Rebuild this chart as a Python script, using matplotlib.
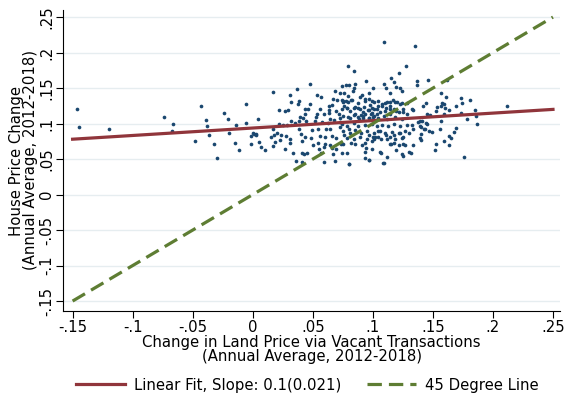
import matplotlib
matplotlib.use("Agg")
import matplotlib.pyplot as plt
import numpy as np

# scatter values (land price change, house price change)
land_change = [
    -0.146, -0.1445, -0.1195, -0.0737, -0.0664, -0.067, -0.0428, -0.0389, -0.0383, -0.0367,
    -0.0478, -0.032, -0.030, -0.0237, -0.0208, -0.0195, -0.0142, -0.0147, -0.0114, -0.0053,
    -0.0053, -0.0014, 0.0, 0.0025, -0.0014, 0.0042, 0.0053,
    0.0797, 0.0847, 0.0942, 0.0478, 0.0744, 0.0775, 0.080, 0.085, 0.0372, 0.0172,
    0.0686, 0.0725, 0.0761, 0.0833, 0.0314, 0.0533, 0.0572, 0.0894, 0.0967, 0.0672,
    0.0705, 0.0739, 0.0778, 0.0819, 0.0933, 0.0969, 0.0317, 0.0389, 0.038, 0.048,
    0.0639, 0.0761, 0.0783, 0.0847, 0.088, 0.093, 0.0992, 0.1039, 0.0219, 0.0294,
    0.0439, 0.0458, 0.0558, 0.0639, 0.0697, 0.0958, 0.1011, 0.0433, 0.0539, 0.0639,
    0.0719, 0.0855, 0.090, 0.0936, 0.0983, 0.1033, 0.0392, 0.0419, 0.0528, 0.0644,
    0.0675, 0.073, 0.0811, 0.0886, 0.0919, 0.0964, 0.1005, 0.0317, 0.0353, 0.0389,
    0.0447, 0.0519, 0.0578, 0.0625, 0.0725, 0.0222, 0.025, 0.0289, 0.0389, 0.0492,
    0.0544, 0.0606, 0.0644, 0.0725, 0.080, 0.0008, 0.0028, 0.0153, 0.018, 0.0236,
    0.0278, 0.0311, 0.0403, 0.0436, 0.0483, 0.0561, 0.0603, 0.0658, 0.0692, 0.0758,
    0.0967, 0.1003, 0.0169, 0.0072, 0.0103, 0.0267, 0.0311, 0.0408, 0.050, 0.0555,
    0.0594, 0.0647, 0.0692, 0.0733, 0.0814, 0.0911, 0.0944, 0.0339, 0.045, 0.0567,
    0.0667, 0.0739, 0.0361, 0.0414, 0.0594, 0.0803, 0.0689, 0.0964, 0.0989,
    0.1094, 0.1355, 0.1278, 0.1217, 0.1155, 0.118, 0.1367, 0.1369, 0.1461, 0.1094,
    0.1111, 0.1194, 0.123, 0.1244, 0.1003, 0.1617, 0.1564, 0.1139, 0.0992, 0.1611,
    0.1736, 0.1811, 0.1578, 0.1442, 0.1414, 0.1322, 0.1536, 0.1569, 0.1633, 0.1694,
    0.1847, 0.2119, 0.1742, 0.1167, 0.1144, 0.120, 0.1242, 0.1105, 0.1075, 0.1108,
    0.1142, 0.1192, 0.1253, 0.1455, 0.1528, 0.178, 0.1861, 0.1864, 0.1692, 0.1561,
    0.1494, 0.1464, 0.1428, 0.1389, 0.140, 0.1333, 0.1297, 0.1255, 0.1222, 0.1172,
    0.1144, 0.1111, 0.1047, 0.1019, 0.0992, 0.1067, 0.1214, 0.1267, 0.1333, 0.1155,
    0.1192, 0.130, 0.1317, 0.1522, 0.1517, 0.1594, 0.1633, 0.165, 0.1564, 0.1394,
    0.133, 0.1253, 0.1114, 0.1067, 0.1083, 0.1758, 0.1405,
    0.0755, 0.0797, 0.0828, 0.088, 0.0936, 0.0978, 0.1006, 0.1047, 0.1075, 0.1117,
    0.1144, 0.1186, 0.1228, 0.1283, 0.0742, 0.0783, 0.0811, 0.0853, 0.0894, 0.0922,
    0.0964, 0.0992, 0.1033, 0.1061, 0.1103, 0.1144, 0.1172, 0.1214, 0.1255, 0.1283,
    0.0755, 0.0797, 0.0839, 0.088, 0.0922, 0.0964, 0.1006, 0.1047, 0.1089, 0.1117,
    0.1186, 0.1242, 0.0742, 0.0783, 0.0839, 0.088, 0.0936, 0.0992, 0.1033, 0.1075,
    0.113, 0.1172, 0.1228, 0.1283, 0.0755, 0.0811, 0.0853, 0.090, 0.095, 0.1006,
    0.1061, 0.1103, 0.1158, 0.1214, 0.1269, 0.0783, 0.0839, 0.0894, 0.095, 0.1006,
    0.1047, 0.1117, 0.1186, 0.1242, 0.0755, 0.0853, 0.0936, 0.1144, 0.1172, 0.1255,
    0.0783, 0.0936, 0.1061, 0.1242, 0.0936, 0.0972, 0.1089, 0.0805,
    0.0658, 0.0272, 0.0597, 0.0167, 0.020, 0.0186, 0.0228, 0.0411, 0.043, 0.0547,
    0.0603, 0.0658, 0.1589, 0.1597, 0.1333, 0.1472, 0.1589, 0.1736, 0.138, 0.1394,
    0.1408, 0.1444, 0.1455, 0.1436, 0.1672, 0.1403, 0.1633, 0.0844, 0.0797, 0.0908,
    0.075,
]
house_change = [
    0.120, 0.095, 0.0925, 0.1095, 0.099, 0.0897, 0.1246, 0.1048, 0.0959, 0.0846,
    0.0755, 0.0713, 0.052, 0.1152, 0.1058, 0.0874, 0.0982, 0.0727, 0.0628, 0.1275,
    0.1006, 0.0826, 0.0864, 0.085, 0.0713, 0.1058, 0.0746,
    0.1809, 0.1738, 0.1605, 0.1554, 0.1525, 0.1548, 0.1548, 0.1562, 0.1487, 0.1445,
    0.1459, 0.1426, 0.1435, 0.1459, 0.1407, 0.1398, 0.1378, 0.1374, 0.1426, 0.135,
    0.1336, 0.1331, 0.1317, 0.1327, 0.135, 0.135, 0.1307, 0.1313, 0.1279, 0.127,
    0.1251, 0.1242, 0.1222, 0.1214, 0.1218, 0.1232, 0.1222, 0.1242, 0.119, 0.119,
    0.1204, 0.120, 0.1208, 0.1194, 0.1176, 0.1194, 0.1204, 0.1137, 0.1133, 0.1147,
    0.1129, 0.1137, 0.1119, 0.1133, 0.1137, 0.1133, 0.1086, 0.1081, 0.1095, 0.1067,
    0.1053, 0.1081, 0.1081, 0.1062, 0.1072, 0.1076, 0.1086, 0.1034, 0.101, 0.1034,
    0.103, 0.103, 0.102, 0.1006, 0.1016, 0.1001, 0.0977, 0.0977, 0.0921, 0.0916,
    0.0925, 0.093, 0.0921, 0.0945, 0.0921, 0.086, 0.0846, 0.0817, 0.0836, 0.0846,
    0.0826, 0.0789, 0.085, 0.0817, 0.0793, 0.0826, 0.0817, 0.0826, 0.0803, 0.0836,
    0.0846, 0.0812, 0.068, 0.067, 0.0633, 0.0647, 0.0732, 0.0751, 0.0704, 0.0637,
    0.0676, 0.0704, 0.0647, 0.0718, 0.0732, 0.0704, 0.0661, 0.0581, 0.0591, 0.0581,
    0.0576, 0.0585, 0.0467, 0.0458, 0.0463, 0.0429, 0.0472, 0.0482, 0.0637,
    0.2149, 0.2092, 0.1813, 0.1718, 0.1639, 0.1591, 0.1596, 0.1544, 0.1619, 0.1554,
    0.1506, 0.1511, 0.1497, 0.1459, 0.1497, 0.1619, 0.1431, 0.1431, 0.1317, 0.1374,
    0.1356, 0.1327, 0.1289, 0.1293, 0.1251, 0.1204, 0.1232, 0.1242, 0.1186, 0.1246,
    0.1194, 0.1242, 0.1285, 0.1336, 0.1299, 0.1307, 0.1289, 0.1289, 0.1242, 0.1222,
    0.1204, 0.1176, 0.1157, 0.1137, 0.1176, 0.1058, 0.110, 0.1001, 0.0939, 0.0925,
    0.0882, 0.0897, 0.0921, 0.0797, 0.0854, 0.0921, 0.0868, 0.0817, 0.0868, 0.0836,
    0.0817, 0.0836, 0.0892, 0.0807, 0.0751, 0.0779, 0.0704, 0.0698, 0.0704, 0.0713,
    0.0628, 0.0599, 0.0581, 0.0713, 0.0628, 0.0751, 0.0826, 0.0803, 0.1034, 0.1034,
    0.0987, 0.0542, 0.0534, 0.0591, 0.0439, 0.0524, 0.0949,
    0.1307, 0.1299, 0.1327, 0.1289, 0.1317, 0.1261, 0.1299, 0.1322, 0.1275, 0.1307,
    0.1251, 0.1299, 0.1275, 0.1289, 0.1204, 0.1214, 0.118, 0.1228, 0.1204, 0.1157,
    0.1194, 0.1147, 0.1204, 0.1157, 0.118, 0.1133, 0.1204, 0.1157, 0.1204, 0.1133,
    0.1109, 0.1086, 0.1119, 0.1086, 0.1109, 0.1072, 0.110, 0.1072, 0.1109, 0.1062,
    0.1086, 0.1062, 0.0992, 0.0967, 0.1006, 0.0967, 0.0977, 0.0992, 0.0959, 0.0987,
    0.0967, 0.0992, 0.0959, 0.0977, 0.0897, 0.0874, 0.0911, 0.0874, 0.0897, 0.0874,
    0.0897, 0.0864, 0.0882, 0.0874, 0.0897, 0.0803, 0.0779, 0.0817, 0.0789, 0.0779,
    0.0817, 0.0789, 0.0779, 0.0803, 0.0708, 0.0708, 0.0732, 0.0708, 0.0732, 0.0708,
    0.0591, 0.0599, 0.0599, 0.0567, 0.052, 0.0482, 0.0449, 0.0425,
    0.126, 0.118, 0.1137, 0.093, 0.0874, 0.0741, 0.0769, 0.0591, 0.0567, 0.0732,
    0.0708, 0.0661, 0.1275, 0.1214, 0.1194, 0.1119, 0.1133, 0.1147, 0.1016, 0.0967,
    0.1038, 0.1006, 0.0992, 0.093, 0.0882, 0.0769, 0.0698, 0.1502, 0.1393, 0.1402,
    0.1322,
]

# fitted line end points and 45 degree line
fit_x = [-0.15, 0.25]
fit_y = [0.078, 0.120]
diag = [-0.15, 0.25]

xticks = [-0.15, -0.1, -0.05, 0, 0.05, 0.1, 0.15, 0.2, 0.25]
yticks = [-0.15, -0.1, -0.05, 0, 0.05, 0.1, 0.15, 0.2, 0.25]
tick_labels = ['-.15', '-.1', '-.05', '0', '.05', '.1', '.15', '.2', '.25']

fs = 10.7

fig = plt.figure(figsize=(5.65, 4.0), dpi=100)
ax = fig.add_axes([0.1115, 0.2225, 0.88, 0.7525])

ax.scatter(land_change, house_change, s=7, color='#1a476f', linewidths=0, zorder=3)
ax.plot(fit_x, fit_y, color='#90353b', lw=2.3, zorder=4,
        label='Linear Fit, Slope: 0.1(0.021)')
ax.plot(diag, diag, color='#5e7d33', lw=2.3, ls=(0, (4.5, 2.2)), zorder=4,
        label='45 Degree Line')

ax.set_xlim(-0.158, 0.256)
ax.set_ylim(-0.164, 0.26)
ax.set_xticks(xticks)
ax.set_xticklabels(tick_labels, fontsize=fs)
ax.set_yticks(yticks)
ax.set_yticklabels(tick_labels, fontsize=fs, rotation=90, va='center')
ax.tick_params(direction='out', length=5, width=0.8, pad=1.5)

ax.grid(axis='y', color='#e6edf0', lw=1)
ax.set_axisbelow(True)
for side in ['top', 'right']:
    ax.spines[side].set_visible(False)

ax.set_xlabel('Change in Land Price via Vacant Transactions\n(Annual Average, 2012-2018)',
              fontsize=fs, linespacing=0.9, labelpad=0)
ax.set_ylabel('House Price Change\n(Annual Average, 2012-2018)',
              fontsize=fs, linespacing=0.9, labelpad=1)

fig.legend(loc='center', bbox_to_anchor=(0.544, 0.037), ncol=2, frameon=False,
           fontsize=fs, handlelength=3.3, columnspacing=1.7, handletextpad=0.6)

fig.savefig('out.png', dpi=100)
